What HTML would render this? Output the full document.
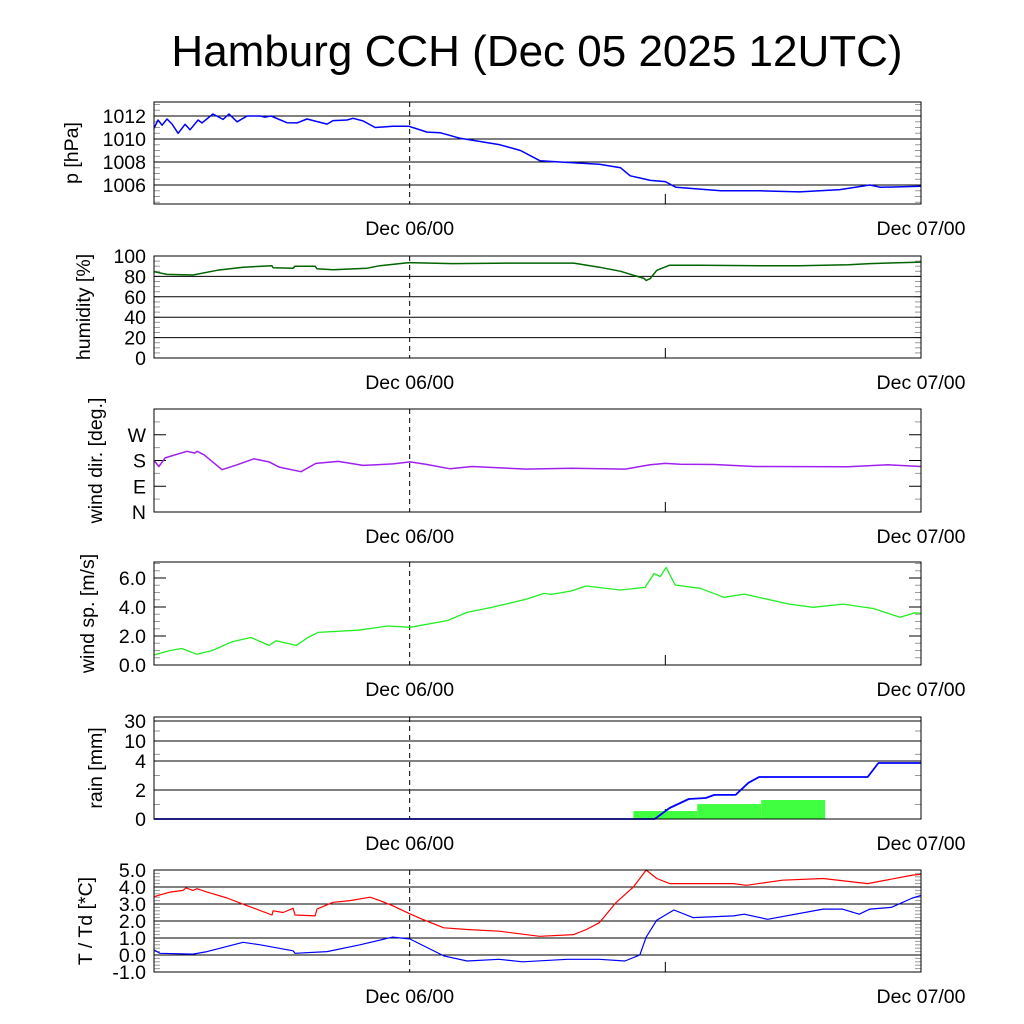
<!DOCTYPE html>
<html><head><meta charset="utf-8"><style>
html,body{margin:0;padding:0;background:#fff;}
svg{display:block;font-family:"Liberation Sans",Arial,sans-serif;}
</style></head><body>
<svg id="chart" width="1024" height="1024" viewBox="0 0 1024 1024">
<text x="537" y="66" font-size="44" text-anchor="middle">Hamburg CCH (Dec 05 2025 12UTC)</text>
</svg>
<script>
// ---- data (hours since Dec 05 12UTC) ----
const xTickLabels = ["Dec 06/00", "Dec 07/00"];
const xTickHours = [12, 36];
const pTime = [0,.19,.38,.61,.85,1.13,1.46,1.69,2.07,2.25,2.77,3.24,3.52,3.9,4.37,4.98,5.21,5.49,6.24,6.71,7.18,8.12,8.4,9.06,9.34,9.81,10.38,11.22,11.97,12.82,13.43,14.37,16.24,17.2,18.12,19.06,20.9,21.9,22.35,23.3,24,24.5,26.6,28.5,30.3,32.2,33.6,34.1,36];
const pVal = [1010.93,1011.65,1011.2,1011.74,1011.3,1010.5,1011.28,1010.8,1011.65,1011.4,1012.17,1011.7,1012.17,1011.5,1012.0,1012.0,1011.9,1012.0,1011.42,1011.4,1011.74,1011.3,1011.6,1011.65,1011.8,1011.57,1011.0,1011.1,1011.1,1010.6,1010.55,1010.06,1009.5,1009.0,1008.1,1008.0,1007.8,1007.5,1006.8,1006.4,1006.3,1005.8,1005.5,1005.5,1005.4,1005.6,1006.0,1005.8,1005.9];
const hTime = [0,.61,1.83,2.96,4.18,5.54,5.59,6.53,6.62,7.56,7.65,8.4,10,10.6,11.97,14,17,19.7,20.9,21.9,23.0,23.1,23.3,23.6,24.2,25.6,28.5,30.3,32.6,33.6,36];
const hVal = [84.6,82,81.4,86,89,90.5,88.5,88,90,90,87.5,86.5,88,90.5,93.5,92.5,93,93,89,85,78,76,78,86,91,91,90.5,90.5,91.5,92.5,94];
const dTime = [0,0.23,0.52,1.55,1.92,2.02,2.35,3.19,3.9,4.69,5.4,5.87,6.9,7.6,8.64,9.81,11.22,12.02,12.82,13.9,14.93,17.46,19.58,22.11,23.29,24.0,24.7,26.3,28.17,32.58,34.46,36];
const dVal = [180,159,189,212,206,212,200,148,165,186,175,157,141,170,177,163,168,175,166,151,159,150,153,150,165,170,167,166,159,158,165,159];
const sTime = [0,.75,1.31,2.02,2.72,3.66,4.55,5.4,5.73,6.67,7.23,7.7,9.58,10.99,12.02,13.76,14.69,15.87,17.46,18.31,18.64,19.58,20.28,21.88,23.05,23.47,23.76,24.04,24.46,25.63,26.76,27.7,29.81,30.94,32.35,33.76,35.02,35.73,36];
const sVal = [0.69,1.0,1.14,0.74,0.99,1.6,1.9,1.35,1.67,1.35,1.9,2.25,2.4,2.69,2.6,3.06,3.63,3.98,4.53,4.94,4.87,5.1,5.45,5.17,5.35,6.3,6.1,6.73,5.52,5.29,4.67,4.89,4.2,3.98,4.2,3.9,3.29,3.6,3.56];
const rainBarStart = [22.5, 25.5, 28.5];
const rainBarAmount = [0.55, 1.03, 1.31];
const rainCumTime = [0,23.5,24.2,25.1,25.9,26.3,27.3,27.9,28.4,33.5,34.0,36];
const rainCumVal = [0,0,0.76,1.38,1.45,1.66,1.66,2.5,2.9,2.9,3.86,3.86];
const tTime = [0,.75,1.36,1.5,1.83,2.02,2.49,3.43,4.37,5.54,5.59,6.06,6.53,6.62,7.56,7.65,8.4,9.2,10.14,10.6,11.2,11.97,12.6,13.6,14.7,16.2,18.1,19.7,20.3,20.9,21.7,22.5,23.1,23.6,24.2,25.6,27.2,27.8,29.5,31.4,33.5,35.6,36];
const tVal = [3.43,3.7,3.8,3.95,3.8,3.9,3.7,3.35,2.9,2.35,2.6,2.5,2.75,2.35,2.3,2.7,3.1,3.2,3.4,3.2,2.9,2.45,2.1,1.6,1.5,1.4,1.1,1.2,1.5,1.9,3.1,4.0,5.0,4.5,4.2,4.2,4.2,4.1,4.4,4.5,4.2,4.7,4.75];
const tdTime = [0,.28,1.83,2.49,4.18,4.98,6.53,6.62,8.12,9.67,11.2,11.97,12.0,13.6,14.7,16.2,17.3,19.4,20.9,22.1,22.8,23.1,23.6,24.4,25.3,27.2,27.7,28.8,31.4,32.3,33.1,33.6,34.6,35.6,36];
const tdVal = [0.3,0.1,0.05,0.2,0.75,0.6,0.25,0.1,0.2,0.6,1.05,0.95,0.95,-0.05,-0.35,-0.25,-0.4,-0.25,-0.25,-0.35,0,1.05,2.05,2.65,2.2,2.3,2.4,2.1,2.7,2.7,2.4,2.7,2.8,3.35,3.5];

const NS = "http://www.w3.org/2000/svg";
const svg = document.getElementById("chart");
const X0 = 154, X1 = 921;
const xs = h => X0 + (X1 - X0) * h / 36;
function el(tag, attrs, parent) {
  const e = document.createElementNS(NS, tag);
  for (const k in attrs) e.setAttribute(k, attrs[k]);
  (parent || svg).appendChild(e);
  return e;
}
function linear(v0, y0, v1, y1) { return v => y0 + (v - v0) * (y1 - y0) / (v1 - v0); }
function piece(vals, ys) {
  return v => {
    for (let i = 0; i < vals.length - 1; i++) {
      if (v <= vals[i + 1] || i === vals.length - 2) return ys[i] + (v - vals[i]) * (ys[i + 1] - ys[i]) / (vals[i + 1] - vals[i]);
    }
  };
}
function panel(name, top, bot, title, ticks, labels, yf, grid, minor) {
  const g = el("g", {});
  
  
  el("rect", {x: X0, y: top, width: X1 - X0, height: bot - top, fill: "#fff"}, g);
  if (minor) minor.forEach(v => {
    const y = yf(v);
    el("line", {x1: X0, x2: X0 + 6, y1: y, y2: y, stroke: "#999", "stroke-width": 1}, g);
    el("line", {x1: X1 - 6, x2: X1, y1: y, y2: y, stroke: "#999", "stroke-width": 1}, g);
  });
  ticks.forEach((v, i) => {
    const y = yf(v);
    if (grid) {
      const ln = el("line", {x1: X0, x2: X1, y1: y, y2: y, stroke: "#000", "stroke-width": 1}, g);
      
      
    } else {
      el("line", {x1: X0, x2: X0 + 12, y1: y, y2: y, stroke: "#000", "stroke-width": 1}, g);
      el("line", {x1: X1 - 12, x2: X1, y1: y, y2: y, stroke: "#000", "stroke-width": 1}, g);
    }
    const t = el("text", {x: 146, y: y + 7, "font-size": 19.5, "text-anchor": "end"}, g);
    t.textContent = labels[i];
    
    
  });
  const dl = el("line", {x1: xs(12), x2: xs(12), y1: top, y2: bot, stroke: "#000", "stroke-width": 1, "stroke-dasharray": "5,4"}, g);
  
  
  el("line", {x1: xs(24), x2: xs(24), y1: bot - 10, y2: bot, stroke: "#000", "stroke-width": 1}, g);
  const yt = el("text", {x: 0, y: 0, "font-size": 19.5, "text-anchor": "middle", transform: `translate(${title.x},${(top + bot) / 2}) rotate(-90)`}, g);
  yt.textContent = title.t;
  
  
  xTickHours.forEach((h, i) => {
    const t = el("text", {x: xs(h), y: bot + 31, "font-size": 19.5, "text-anchor": "middle"}, g);
    t.textContent = xTickLabels[i];
    
    
  });
  return g;
}
function series(g, name, times, vals, yf, color, w) {
  const d = times.map((t, i) => (i ? "L" : "M") + xs(t).toFixed(1) + "," + yf(vals[i]).toFixed(1)).join("");
  const p = el("path", {d: d, fill: "none", stroke: color, "stroke-width": w || 1.5, "stroke-linejoin": "round"}, g);
  
  
}
function frame(g, top, bot) {
  el("rect", {x: X0, y: top, width: X1 - X0, height: bot - top, fill: "none", stroke: "#000", "stroke-width": 1}, g);
}
function range(a, b, s) { const r = []; for (let v = a; v <= b + 1e-9; v += s) r.push(v); return r; }

// Pressure
let yP = linear(1012, 116, 1006, 185);
let g = panel("pressure", 102, 204, {x: 78, t: "p [hPa]"}, [1012, 1010, 1008, 1006], ["1012", "1010", "1008", "1006"], yP, true, range(1004.5, 1013, 0.5));
series(g, "pressure-line", pTime, pVal, yP, "#0000ff");
frame(g, 102, 204);

// Humidity
let yH = linear(0, 358, 100, 256);
g = panel("humidity", 256, 358, {x: 90, t: "humidity [%]"}, [100, 80, 60, 40, 20, 0], ["100", "80", "60", "40", "20", "0"], yH, true, range(0, 100, 5));
series(g, "humidity-line", hTime, hVal, yH, "#006400");
frame(g, 256, 358);

// Wind direction
let yD = linear(0, 512, 360, 409);
g = panel("wind-dir", 409, 512, {x: 102, t: "wind dir. [deg.]"}, [270, 180, 90, 0], ["W", "S", "E", "N"], yD, false, range(45, 315, 90));
series(g, "wind-direction-line", dTime, dVal, yD, "#a020f0");
frame(g, 409, 512);

// Wind speed
let yS = linear(0, 665, 6, 578);
g = panel("wind-speed", 562, 665, {x: 94, t: "wind sp. [m/s]"}, [6, 4, 2, 0], ["6.0", "4.0", "2.0", "0.0"], yS, false, range(0.5, 7, 0.5));
series(g, "wind-speed-line", sTime, sVal, yS, "#22ee22", 1.3);
frame(g, 562, 665);

// Rain
let yR = piece([0, 2, 4, 10, 30, 40], [819, 790, 761, 741, 721, 717]);
g = panel("rain", 717, 819, {x: 102, t: "rain [mm]"}, [30, 10, 4, 2, 0], ["30", "10", "4", "2", "0"], yR, true, [1, 3, 6, 20]);
rainBarStart.forEach((h, i) => {
  const b = el("rect", {x: xs(h), y: yR(rainBarAmount[i]), width: xs(h + 3) - xs(h), height: yR(0) - yR(rainBarAmount[i]), fill: "#40ff40"}, g);
  
  
});
series(g, "rain-cumulative-line", rainCumTime, rainCumVal, yR, "#0000ff", 1.8);
frame(g, 717, 819);

// Temperature / dewpoint
let yT = linear(5, 870, -1, 972);
g = panel("temperature", 870, 972, {x: 92, t: "T / Td [*C]"}, [5, 4, 3, 2, 1, 0, -1], ["5.0", "4.0", "3.0", "2.0", "1.0", "0.0", "-1.0"], yT, true, range(-1, 5, 0.2));
series(g, "temperature-line", tTime, tVal, yT, "#ff0000", 1.2);
series(g, "dewpoint-line", tdTime, tdVal, yT, "#0000ff", 1.2);
frame(g, 870, 972);
</script>
</body></html>
